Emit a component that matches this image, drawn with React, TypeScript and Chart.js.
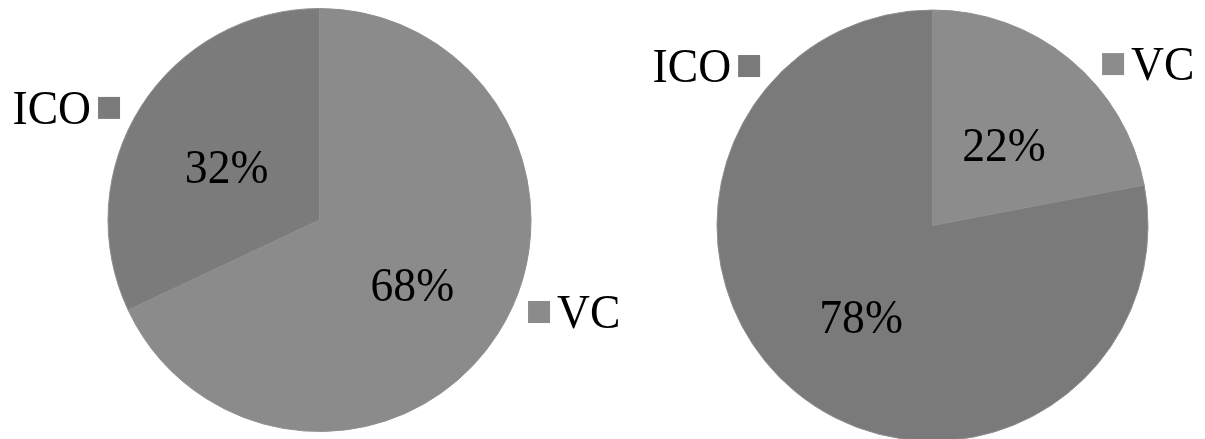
import React, { useEffect, useRef } from "react";
import { Chart, registerables } from "chart.js";

Chart.register(...registerables);

// ---- data ----
const categories = ["VC", "ICO"];
const leftValues = [68, 32];
const rightValues = [22, 78];
const leftColors = ["#8b8b8b", "#7b7b7b"];
const rightColors = ["#8c8c8c", "#7a7a7a"];

// label anchors in units of the pie radius (from the pie centre); side: which way the text goes
const leftLabelLayout = [
  { ax: 0.986, ay: 0.435, side: "right" },
  { ax: -0.943, ay: -0.53, side: "left" },
];
const rightLabelLayout = [
  { ax: 0.787, ay: -0.749, side: "right" },
  { ax: -0.8, ay: -0.74, side: "left" },
];

const FONT = "'Liberation Serif', 'Times New Roman', serif";

function drawText(ctx: any, text: string, x: number, y: number, align: string) {
  // slightly condensed, taller serif as in the reference
  const sx = 0.95;
  ctx.save();
  ctx.translate(x, y);
  ctx.scale(sx, 1);
  ctx.textAlign = align;
  ctx.fillText(text, 0, 0);
  ctx.restore();
}

const labelPlugin = {
  id: "pieLabels",
  afterDraw(chart: any) {
    const opts = chart.options.plugins.pieLabels;
    const ctx = chart.ctx;
    const meta = chart.getDatasetMeta(0);
    const ds = chart.data.datasets[0];
    const total = ds.data.reduce((a: number, b: number) => a + b, 0);
    ctx.save();
    meta.data.forEach((arc: any, i: number) => {
      const { x, y, startAngle, endAngle, outerRadius } = arc.getProps(
        ["x", "y", "startAngle", "endAngle", "outerRadius"],
        true
      );
      const mid = (startAngle + endAngle) / 2;
      const pr = outerRadius * 0.52;
      ctx.fillStyle = "#000";
      ctx.font = `48px ${FONT}`;
      ctx.textBaseline = "middle";
      const pct = Math.round((ds.data[i] / total) * 100) + "%";
      drawText(ctx, pct, x + Math.cos(mid) * pr, y + Math.sin(mid) * pr + 9, "center");

      // category label with key
      const lay = opts.layout[i];
      const axp = x + lay.ax * outerRadius;
      const ayp = y + lay.ay * outerRadius;
      const sq = 22;
      const gap = 7;
      ctx.fillStyle = ds.backgroundColor[i];
      if (lay.side === "right") {
        ctx.fillRect(axp, ayp - sq / 2, sq, sq);
        ctx.fillStyle = "#000";
        drawText(ctx, chart.data.labels[i], axp + sq + gap, ayp + 3, "left");
      } else {
        ctx.fillRect(axp - sq, ayp - sq / 2, sq, sq);
        ctx.fillStyle = "#000";
        drawText(ctx, chart.data.labels[i], axp - sq - gap, ayp + 3, "right");
      }
    });
    ctx.restore();
  },
};

function PieCanvas(props: {
  values: number[];
  colors: string[];
  layout: any[];
  padding: any;
  width: number;
  height: number;
  left: number;
}) {
  const ref = useRef<HTMLCanvasElement>(null);
  useEffect(() => {
    if (!ref.current) return;
    const chart = new Chart(ref.current, {
      type: "pie",
      data: {
        labels: categories,
        datasets: [
          {
            data: props.values,
            backgroundColor: props.colors,
            borderColor: "#8f8f8f",
            borderWidth: 1,
            clip: false as any,
          },
        ],
      },
      options: {
        responsive: false,
        animation: false,
        layout: { padding: props.padding },
        plugins: {
          legend: { display: false },
          tooltip: { enabled: false },
          pieLabels: { layout: props.layout },
        } as any,
      },
      plugins: [labelPlugin],
    });
    return () => chart.destroy();
  }, []);
  return (
    <canvas
      ref={ref}
      width={props.width}
      height={props.height}
      style={{
        position: "absolute",
        left: props.left,
        top: 0,
        width: props.width,
        height: props.height,
      }}
    />
  );
}

export default function App() {
  return (
    <div
      style={{
        position: "absolute",
        left: 0,
        top: 0,
        width: 1205,
        height: 439,
        overflow: "hidden",
        background: "#fff",
      }}
    >
      <PieCanvas
        values={leftValues}
        colors={leftColors}
        layout={leftLabelLayout}
        padding={{ left: 107.5, right: 168.5, top: 8, bottom: 28 }}
        width={700}
        height={460}
        left={0}
      />
      <PieCanvas
        values={rightValues}
        colors={rightColors}
        layout={rightLabelLayout}
        padding={{ left: 106.5, right: 56.5, top: 9.5, bottom: 18.5 }}
        width={595}
        height={460}
        left={610}
      />
    </div>
  );
}
